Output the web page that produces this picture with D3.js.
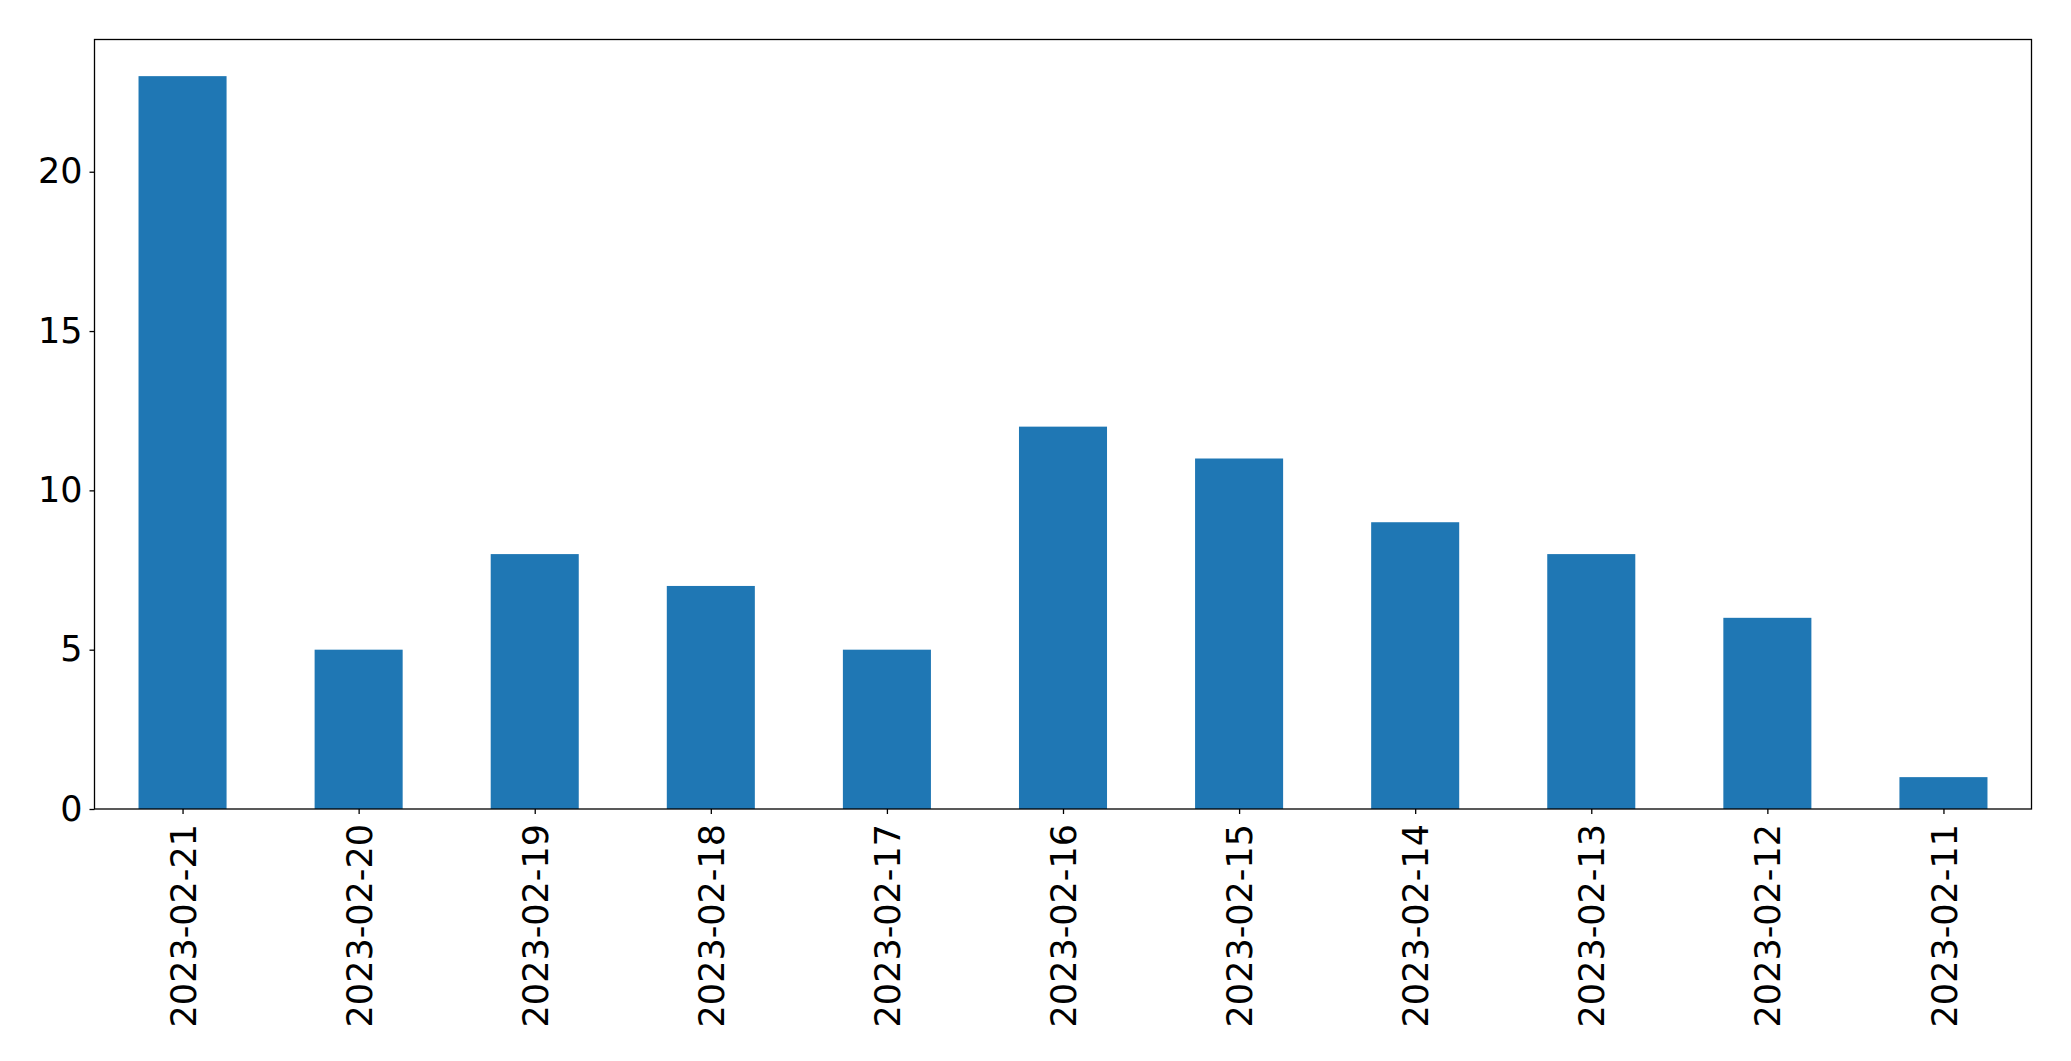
<!DOCTYPE html>
<html>
<head>
<meta charset="utf-8">
<script src="https://cdn.jsdelivr.net/npm/d3@7"></script>
<style>
  body { margin: 0; background: #fff; }
  svg { display: block; font-family: "DejaVu Sans", sans-serif; }
</style>
</head>
<body>
<div id="chart"></div>
<script>
// dates in the order they are plotted
var dates = ["2023-02-21", "2023-02-20", "2023-02-19", "2023-02-18", "2023-02-17",
  "2023-02-16", "2023-02-15", "2023-02-14", "2023-02-13", "2023-02-12", "2023-02-11"];
var counts = [23, 5, 8, 7, 5, 12, 11, 9, 8, 6, 1];
var yTicks = [0, 5, 10, 15, 20];

var svgWidth = 2071;
var svgHeight = 1061;

var margin = { top: 39.5, right: 39.5, bottom: 252, left: 94.5 };
var chartWidth = svgWidth - margin.left - margin.right;
var chartHeight = svgHeight - margin.top - margin.bottom;

var svg = d3.select("#chart")
  .append("svg")
  .attr("width", svgWidth)
  .attr("height", svgHeight);

var chartGroup = svg.append("g")
  .attr("transform", `translate(${margin.left}, ${margin.top})`);

// pandas style: categories at integer positions, xlim -0.5 .. n-0.5
var xScale = d3.scaleLinear()
  .domain([-0.5, dates.length - 0.5])
  .range([0, chartWidth]);

var yScale = d3.scaleLinear()
  .domain([0, d3.max(counts) * 1.05])
  .range([chartHeight, 0]);

var barWidth = xScale(0.5) - xScale(0);

// bars
chartGroup.selectAll(".bar")
  .data(counts)
  .enter()
  .append("rect")
  .attr("class", "bar")
  .attr("x", (d, i) => xScale(i) - barWidth / 2)
  .attr("y", d => yScale(d))
  .attr("width", barWidth)
  .attr("height", d => chartHeight - yScale(d))
  .attr("fill", "#1f77b4");

// axes
var bottomAxis = d3.axisBottom(xScale)
  .tickValues(d3.range(dates.length))
  .tickFormat(i => dates[i])
  .tickSize(5)
  .tickPadding(4)
  .tickSizeOuter(0);

var leftAxis = d3.axisLeft(yScale)
  .tickValues(yTicks)
  .tickSize(5)
  .tickPadding(7)
  .tickSizeOuter(0);

var xAxisG = chartGroup.append("g")
  .attr("transform", `translate(0, ${chartHeight})`)
  .call(bottomAxis);

xAxisG.selectAll("text")
  .attr("transform", "rotate(-90)")
  .attr("text-anchor", "end")
  .attr("x", -15)
  .attr("y", 0)
  .attr("dy", "0.36em");

var yAxisG = chartGroup.append("g")
  .call(leftAxis);

[xAxisG, yAxisG].forEach(function(g) {
  g.select(".domain").remove();
  g.selectAll("line").attr("stroke", "#000").attr("stroke-width", 1.3);
  g.selectAll("text")
    .attr("fill", "#000")
    .attr("font-size", "35px")
    .attr("font-family", "DejaVu Sans, sans-serif");
});

// frame
chartGroup.append("rect")
  .attr("x", 0)
  .attr("y", 0)
  .attr("width", chartWidth)
  .attr("height", chartHeight)
  .attr("fill", "none")
  .attr("stroke", "#000")
  .attr("stroke-width", 1.3);
</script>
</body>
</html>
